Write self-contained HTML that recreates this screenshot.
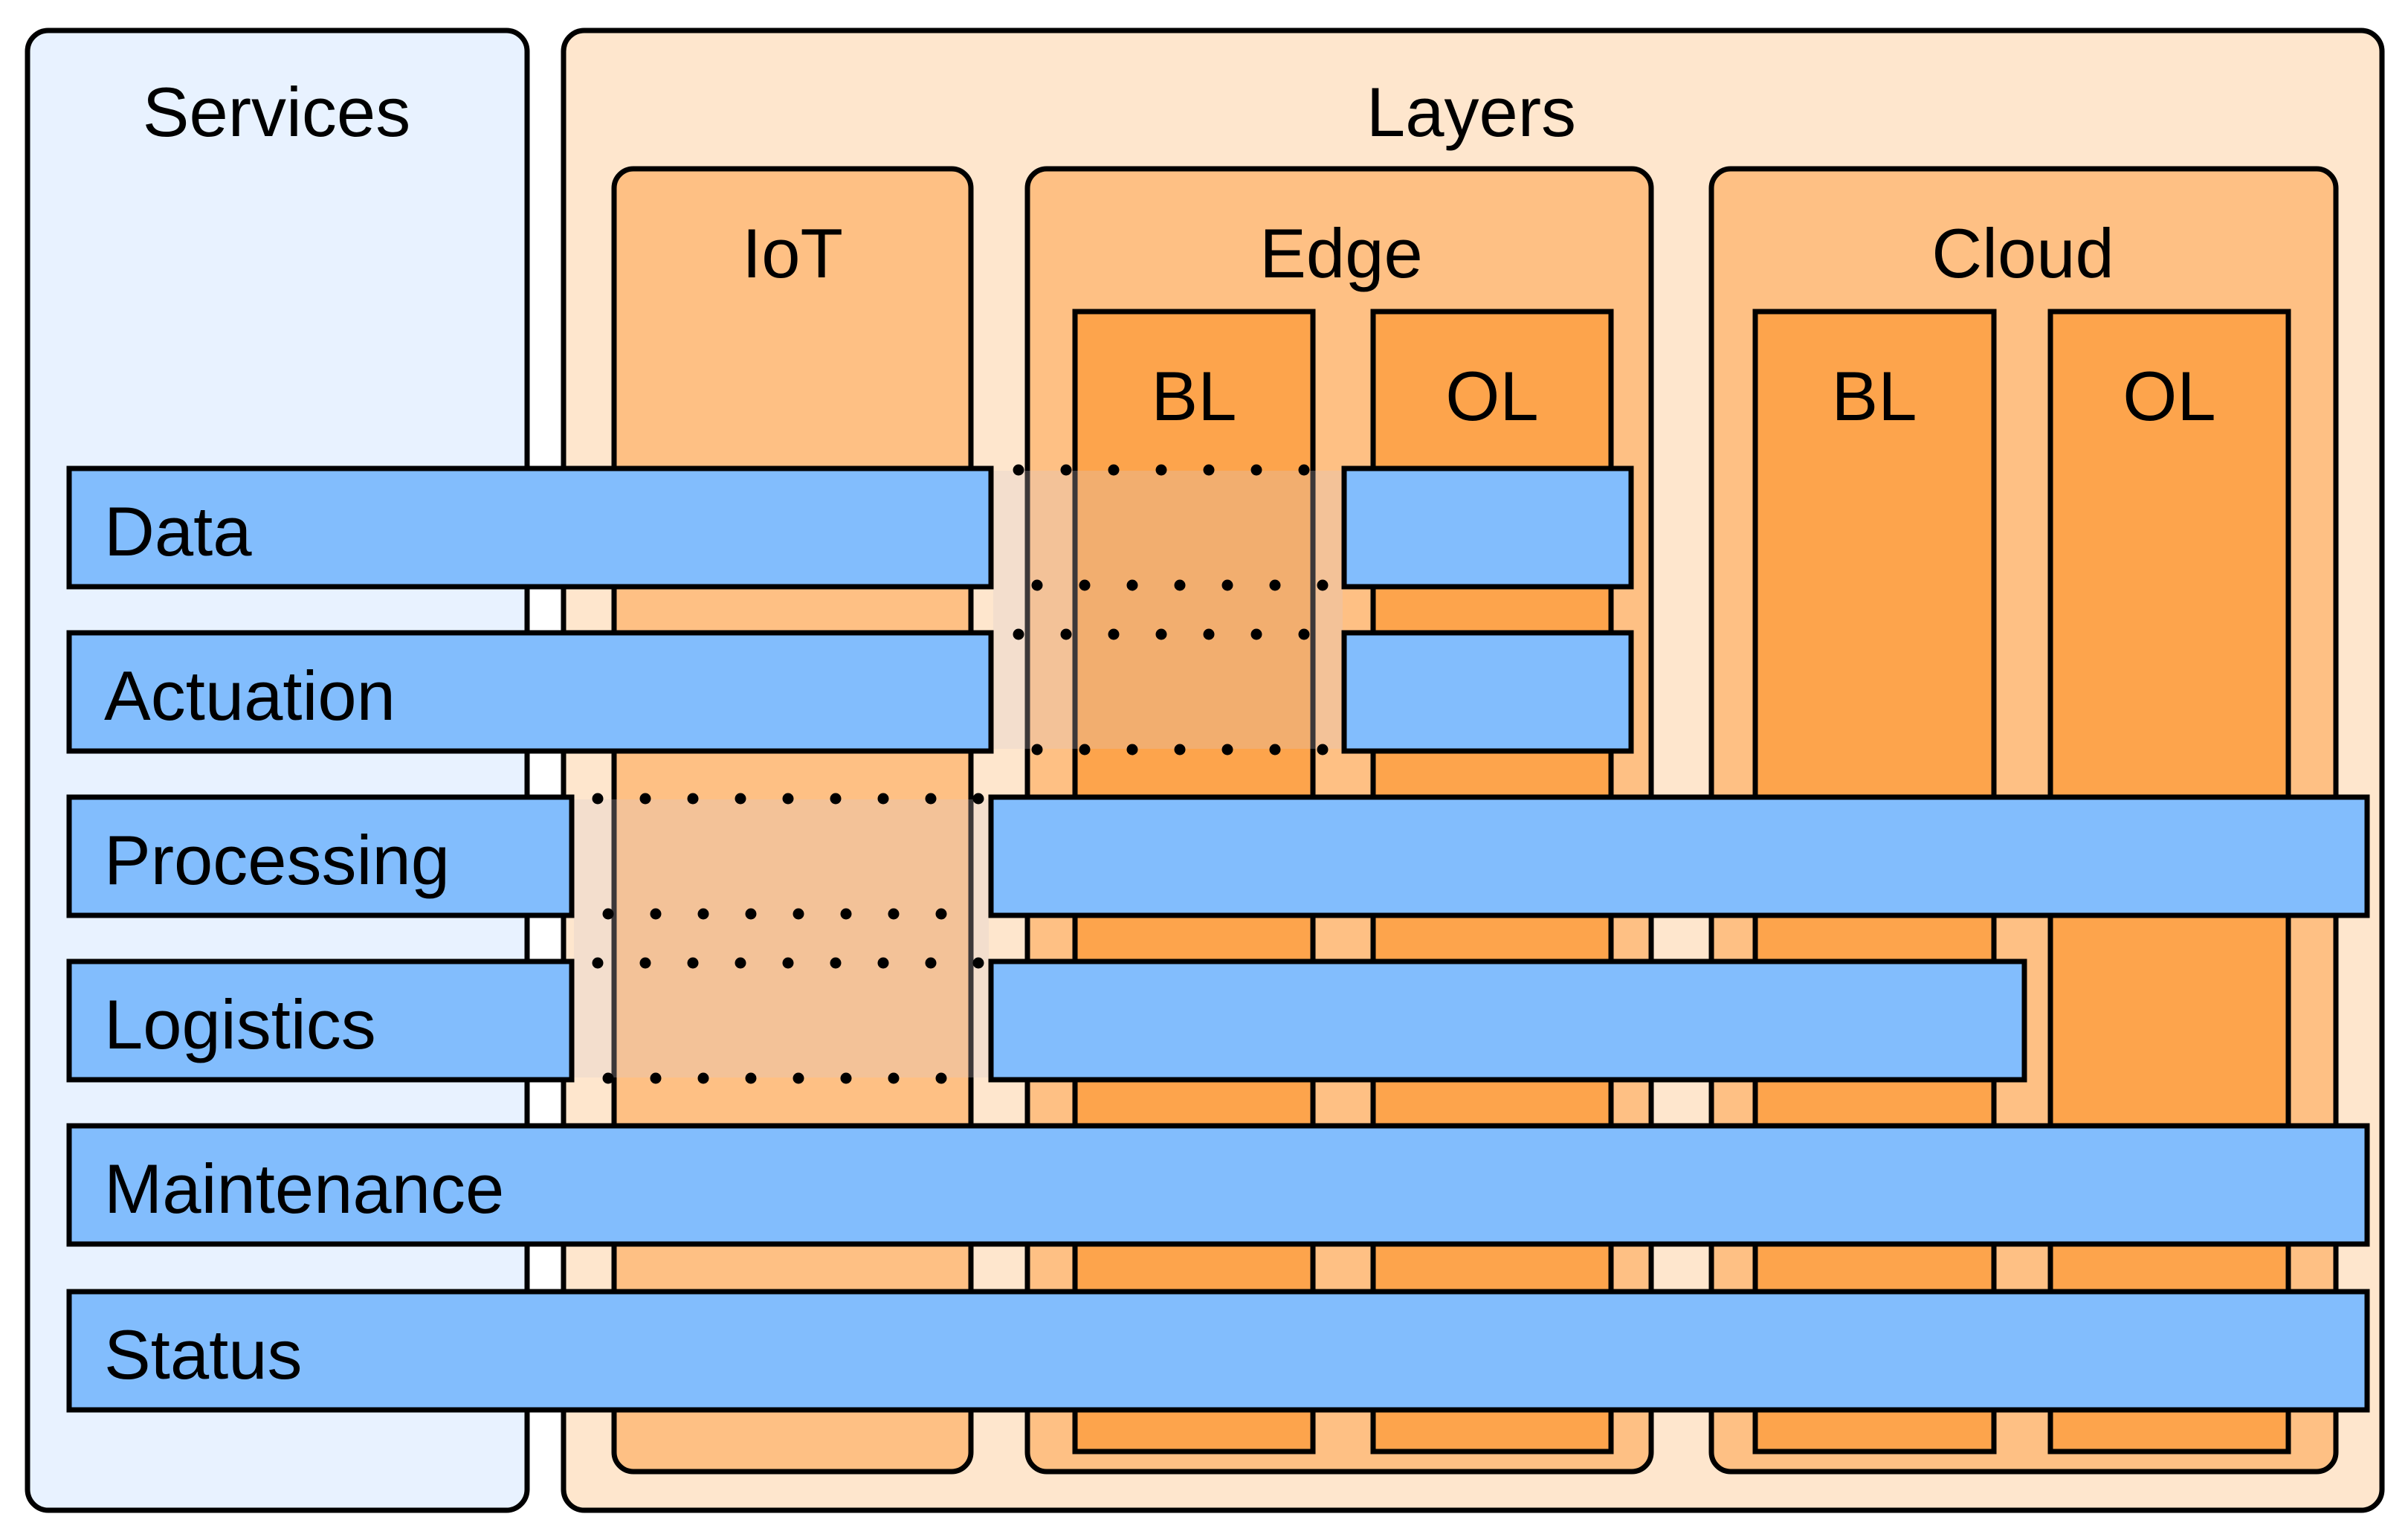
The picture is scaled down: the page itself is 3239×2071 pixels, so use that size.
<!DOCTYPE html>
<html><head><meta charset="utf-8"><style>
html,body{margin:0;padding:0;background:#fff;}
svg{display:block;}
text{font-family:"Liberation Sans",sans-serif;fill:#000;}
</style></head><body>
<svg width="3239" height="2071" viewBox="0 0 3239 2071" xmlns="http://www.w3.org/2000/svg">
<g stroke="#000" stroke-width="7">
<rect x="37" y="41" width="672" height="1990" rx="28" fill="#e8f2ff"/>
<rect x="758" y="41" width="2446" height="1990" rx="28" fill="#fee6cd"/>
<rect x="826" y="227" width="480" height="1752" rx="26" fill="#fec084"/>
<rect x="1382" y="227" width="839" height="1752" rx="26" fill="#fec084"/>
<rect x="2302" y="227" width="840" height="1752" rx="26" fill="#fec084"/>
<rect x="1446" y="419" width="320" height="1533" fill="#fda44c"/>
<rect x="1847" y="419" width="320" height="1533" fill="#fda44c"/>
<rect x="2361" y="419" width="321" height="1533" fill="#fda44c"/>
<rect x="2758" y="419" width="320" height="1533" fill="#fda44c"/>
</g>
<rect x="1336" y="633" width="470" height="374" fill="rgba(215,200,205,0.28)"/>
<rect x="772" y="1075" width="558" height="374" fill="rgba(215,200,205,0.28)"/>
<g font-size="94" text-anchor="middle">
<text x="372" y="183">Services</text>
<text x="1979" y="183">Layers</text>
<text x="1066" y="373">IoT</text>
<text x="1804" y="373">Edge</text>
<text x="2721" y="373">Cloud</text>
<text x="1606" y="565">BL</text>
<text x="2007" y="565">OL</text>
<text x="2521" y="565">BL</text>
<text x="2918" y="565">OL</text>
</g>
<g stroke="#000" stroke-width="7" fill="#82bdfd">
<rect x="93" y="630" width="1240" height="159"/>
<rect x="93" y="851" width="1240" height="159"/>
<rect x="1808" y="630" width="386" height="159"/>
<rect x="1808" y="851" width="386" height="159"/>
<rect x="93" y="1072" width="676" height="159"/>
<rect x="1333" y="1072" width="1851" height="159"/>
<rect x="93" y="1293" width="676" height="159"/>
<rect x="1333" y="1293" width="1390" height="159"/>
<rect x="93" y="1514" width="3091" height="159"/>
<rect x="93" y="1737" width="3091" height="159"/>
</g>
<g stroke="#000" stroke-width="15" stroke-linecap="round" stroke-dasharray="0 64" fill="none">
<line x1="1370" y1="632" x2="1770" y2="632"/>
<line x1="1395" y1="787" x2="1795" y2="787"/>
<line x1="1370" y1="853" x2="1770" y2="853"/>
<line x1="1395" y1="1008" x2="1795" y2="1008"/>
<line x1="804" y1="1074" x2="1320" y2="1074"/>
<line x1="818" y1="1229" x2="1330" y2="1229"/>
<line x1="804" y1="1295" x2="1320" y2="1295"/>
<line x1="818" y1="1450" x2="1330" y2="1450"/>
</g>
<g font-size="94">
<text x="140" y="747">Data</text>
<text x="140" y="968">Actuation</text>
<text x="140" y="1189">Processing</text>
<text x="140" y="1410">Logistics</text>
<text x="140" y="1631">Maintenance</text>
<text x="140" y="1854">Status</text>
</g>
</svg>
</body></html>
